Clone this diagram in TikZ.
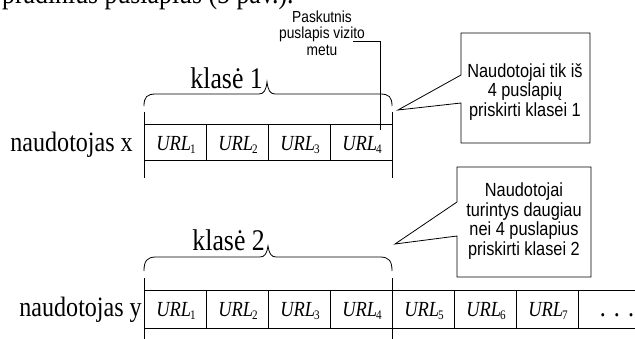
\documentclass[tikz,border=0pt]{standalone}
\usepackage{fontspec}
\setmainfont{Liberation Serif}[FakeStretch=0.86]
\newfontfamily\calsans{Liberation Sans}[FakeStretch=0.86]
\newcommand\urlt[1]{{\itshape URL}\kern-1.2pt\raisebox{-3pt}{\fontsize{13}{13}\selectfont #1}}
\begin{document}
\begin{tikzpicture}[x=1pt,y=-1pt,
  ln/.style={draw=black,line width=0.8pt},
  cellbox/.style={ln,minimum width=62pt,inner sep=0pt,outer sep=0pt},
  urltext/.style={font=\fontsize{21.5}{21.5}\selectfont,inner sep=0pt},
  rowlabel/.style={font=\fontsize{28}{28}\selectfont,inner sep=0pt,anchor=base east},
  klabel/.style={font=\fontsize{30}{30}\selectfont,inner sep=0pt,anchor=base east},
  callout/.style={ln,fill=white,line join=miter},
  caltext/.style={font=\calsans\fontsize{19}{19.5}\selectfont,align=center,inner sep=0pt},
  annot/.style={font=\calsans\fontsize{16}{16.5}\selectfont,align=center,inner sep=0pt}]
\useasboundingbox (0,0) rectangle (635,338);

% cut-off line of running text at the top
\node[font=\fontsize{30}{30}\selectfont,inner sep=0pt,anchor=base west] (toptext) at (2,3) {pradinius puslapius (5 pav.).};

% ---------- user x ----------
\foreach \i in {1,...,4}{
  \node[cellbox,minimum height=36pt] (xc\i) at ({144+62*(\i-0.5)},142) {};
  \node[urltext,anchor=base] (xu\i) at ({145+62*(\i-0.5)},150.5) {\urlt{\i}};
}
\node[rowlabel] (ux) at (133,151) {naudotojas x};
\draw[ln] (144,112) -- (144,178);
\draw[ln] (392,112) -- (392,178);
% brace 1
\draw[ln] (144,106) .. controls (144,97) and (147,94) .. (156,94) -- (259,94)
  .. controls (264,94) and (266,90) .. (267,82)
  .. controls (268,90) and (270,94) .. (275,94) -- (380,94)
  .. controls (389,94) and (392,97) .. (392,106);
\node[klabel] (k1) at (263,88) {klasė 1};

% annotation and its leader line into URL_4
\node[annot] (ann) at (322,33) {Paskutnis\\puslapis vizito\\metu};
\coordinate (annstart) at (353,41);
\coordinate (annend) at (380,130);
\draw[ln] (annstart) -| (annend);

% callout 1
\draw[callout] (461,33) -- (590,33) -- (590,143) -- (461,143) -- (461,103) -- (398,110) -- (461,75) -- cycle;
\node[caltext] (c1) at (525,92) {Naudotojai tik iš\\4 puslapių\\priskirti klasei 1};

% ---------- user y ----------
\foreach \i in {1,...,7}{
  \node[cellbox,minimum height=38pt] (yc\i) at ({144+62*(\i-0.5)},309) {};
  \node[urltext,anchor=base] (yu\i) at ({145+62*(\i-0.5)},316.5) {\urlt{\i}};
}
\draw[ln] (578,290) -- (640,290);
\draw[ln] (578,328) -- (640,328);
\node[font=\fontsize{28}{28}\selectfont,inner sep=0pt,anchor=base] (dots) at (617,316) {. . .};
\node[rowlabel] (uy) at (142,316) {naudotojas y};
\draw[ln] (144,278) -- (144,340);
\draw[ln] (392,278) -- (392,340);
% brace 2
\draw[ln] (144,271) .. controls (144,261) and (147,257) .. (156,257) -- (260,257)
  .. controls (265,257) and (267,253) .. (268,246)
  .. controls (269,253) and (271,257) .. (276,257) -- (380,257)
  .. controls (389,257) and (392,261) .. (392,271);
\node[klabel] (k2) at (265,250) {klasė 2};

% callout 2
\draw[callout] (457,167) -- (591,167) -- (591,277) -- (457,277) -- (457,236) -- (395,244) -- (457,202) -- cycle;
\node[caltext] (c2) at (524,221) {Naudotojai\\turintys daugiau\\nei 4 puslapius\\priskirti klasei 2};
\end{tikzpicture}
\end{document}
